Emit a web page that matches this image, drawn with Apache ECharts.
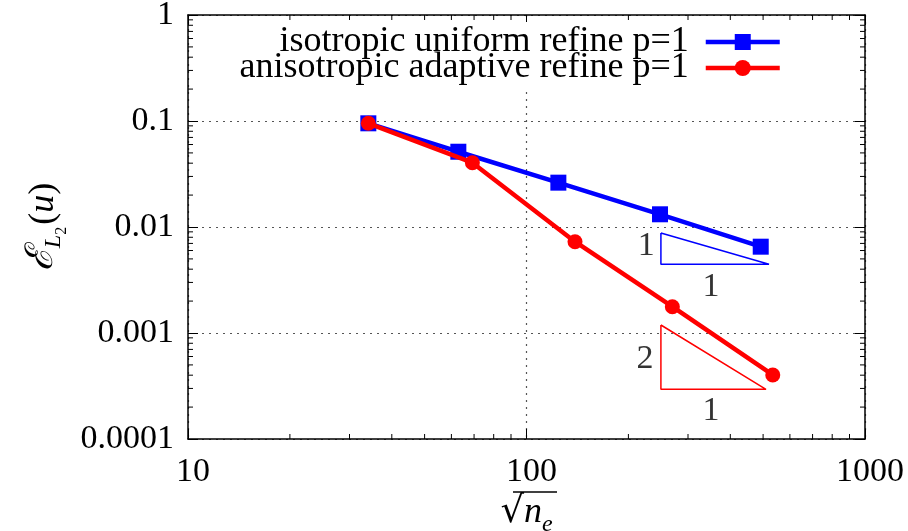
<!DOCTYPE html>
<html>
<head>
<meta charset="utf-8">
<script src="https://cdn.jsdelivr.net/npm/echarts@6/dist/echarts.min.js"></script>
<style>html,body{margin:0;padding:0;background:#fff;}#c{width:908px;height:531px;}</style>
</head>
<body>
<div id="c"></div>
<script>
// ---- data ----
const isoX = [34.1, 62.9, 124.2, 248, 492];
const isoY = [0.0951, 0.0513, 0.0262, 0.01318, 0.00652];
const anisoX = [34.1, 69.2, 139.1, 269.7, 534];
const anisoY = [0.0951, 0.0404, 0.00726, 0.00177, 0.000402];

// slope triangles (data coordinates)
const blueTriX = [249.5, 249.5, 520.5, 249.5];
const blueTriY = [0.00878, 0.00445, 0.00445, 0.00878];
const redTriX = [249.5, 249.5, 510, 249.5];
const redTriY = [0.00119, 0.000294, 0.000294, 0.00119];
const blueTriLabelX = [226, 351];
const blueTriLabelY = [0.0066, 0.0027];
const blueTriLabelText = ['1', '1'];
const redTriLabelX = [224, 351];
const redTriLabelY = [0.00057, 0.000184];
const redTriLabelText = ['2', '1'];

const xTickLabels = ['10', '100', '1000'];
const yTickLabels = ['0.0001', '0.001', '0.01', '0.1', '1'];
const xMinor = [20, 30, 40, 50, 60, 70, 80, 90, 200, 300, 400, 500, 600, 700, 800, 900];
const yMinor = [0.0002, 0.0003, 0.0004, 0.0005, 0.0006, 0.0007, 0.0008, 0.0009,
                0.002, 0.003, 0.004, 0.005, 0.006, 0.007, 0.008, 0.009,
                0.02, 0.03, 0.04, 0.05, 0.06, 0.07, 0.08, 0.09,
                0.2, 0.3, 0.4, 0.5, 0.6, 0.7, 0.8, 0.9];

const seriesNames = ['isotropic uniform refine p=1', 'anisotropic adaptive refine p=1'];

const FONT = "'Liberation Serif', 'DejaVu Serif', serif";
const zip = (a, b) => a.map((v, i) => [v, b[i]]);
const labelFor = (list, v) => {
  const s = String(Number(Number(v).toPrecision(6)));
  return list.includes(s) ? s : s;
};

const chart = echarts.init(document.getElementById('c'), null, {renderer: 'canvas'});

const axisLine = {show: true, onZero: false, lineStyle: {color: '#000', width: 1.5}};
const majorTick = {show: true, inside: true, length: 10, lineStyle: {color: '#000', width: 1}};
const gridLine = {show: true, lineStyle: {color: '#555', width: 1.2, type: [2, 5]}};

const option = {
  animation: false,
  backgroundColor: '#fff',
  textStyle: {fontFamily: FONT},
  grid: {left: 188, right: 43, top: 15, bottom: 92, containLabel: false, outerBoundsMode: 'none'},
  legend: {
    data: seriesNames,
    orient: 'vertical',
    align: 'right',
    right: 124,
    top: 22,
    padding: [2, 2, 2, 2],
    itemGap: -10,
    itemWidth: 74,
    itemHeight: 20,
    backgroundColor: '#fff',
    lineStyle: {width: 4.5},
    textStyle: {fontFamily: FONT, fontSize: 36, color: '#000', padding: [0, 12, 0, 0]}
  },
  xAxis: [{
    type: 'log', logBase: 10, min: 10, max: 1000, position: 'bottom',
    axisLine: axisLine, axisTick: majorTick,
    axisLabel: {fontFamily: FONT, fontSize: 34, color: '#000', margin: 16, padding: [0, 0, 0, 10],
      formatter: v => labelFor(xTickLabels, v)},
    splitLine: gridLine,
    name: '{r|√}{n|n}{e|e}',
    nameLocation: 'middle', nameGap: 42,
    nameTextStyle: {rich: {
      r: {fontFamily: 'DejaVu Serif', fontSize: 37, color: '#000', lineHeight: 40, verticalAlign: 'bottom'},
      n: {fontFamily: FONT, fontStyle: 'italic', fontSize: 36, color: '#000', lineHeight: 40, verticalAlign: 'bottom'},
      e: {fontFamily: FONT, fontStyle: 'italic', fontSize: 24, color: '#000', lineHeight: 40, verticalAlign: 'bottom', padding: [0, 0, -6, 0]}
    }}
  }, {
    type: 'log', logBase: 10, min: 10, max: 1000, position: 'top',
    axisLine: axisLine, axisTick: majorTick, axisLabel: {show: false}, splitLine: {show: false}
  }],
  yAxis: [{
    type: 'log', logBase: 10, min: 0.0001, max: 1, position: 'left',
    axisLine: axisLine, axisTick: majorTick,
    axisLabel: {fontFamily: FONT, fontSize: 34, color: '#000', margin: 14, formatter: v => labelFor(yTickLabels, v)},
    splitLine: gridLine,
    name: '{E|ℰ}{L|L}{two|2}{p|(}{u|u}{p|)}',
    nameLocation: 'middle', nameRotate: 90, nameGap: 126,
    nameTextStyle: {rich: {
      E: {fontFamily: "'DejaVu Serif', serif", fontStyle: 'italic', fontSize: 38, color: '#000', lineHeight: 44, verticalAlign: 'bottom'},
      L: {fontFamily: FONT, fontStyle: 'italic', fontSize: 24, color: '#000', lineHeight: 44, verticalAlign: 'bottom', padding: [0, 0, -4, 0]},
      two: {fontFamily: FONT, fontSize: 16, color: '#000', lineHeight: 44, verticalAlign: 'bottom', padding: [0, 2, -8, 0]},
      p: {fontFamily: FONT, fontSize: 36, color: '#000', lineHeight: 44, verticalAlign: 'bottom'},
      u: {fontFamily: FONT, fontStyle: 'italic', fontSize: 36, color: '#000', lineHeight: 44, verticalAlign: 'bottom'}
    }}
  }, {
    type: 'log', logBase: 10, min: 0.0001, max: 1, position: 'right',
    axisLine: axisLine, axisTick: majorTick, axisLabel: {show: false}, splitLine: {show: false}
  }],
  graphic: [{
    type: 'line', shape: {x1: 513, y1: 492, x2: 557, y2: 492}, style: {stroke: '#000', lineWidth: 1.4}, z: 100
  }],
  series: [
    {
      name: seriesNames[0], type: 'line', data: zip(isoX, isoY),
      symbol: 'rect', symbolSize: 16, color: '#0000ff',
      lineStyle: {width: 4.5, color: '#0000ff'}, itemStyle: {color: '#0000ff'}, z: 5
    },
    {
      name: seriesNames[1], type: 'line', data: zip(anisoX, anisoY),
      symbol: 'circle', symbolSize: 15, color: '#ff0000',
      lineStyle: {width: 4.5, color: '#ff0000'}, itemStyle: {color: '#ff0000'}, z: 6
    },
    {
      name: 'blueTri', type: 'line', data: zip(blueTriX, blueTriY), symbol: 'none', silent: true,
      lineStyle: {width: 1.5, color: '#0000ff'}, z: 4
    },
    {
      name: 'redTri', type: 'line', data: zip(redTriX, redTriY), symbol: 'none', silent: true,
      lineStyle: {width: 1.5, color: '#ff0000'}, z: 4
    },
    {
      name: 'triLabels', type: 'scatter', symbolSize: 0, silent: true,
      data: blueTriLabelX.map((x, i) => ({value: [x, blueTriLabelY[i]], name: blueTriLabelText[i]}))
        .concat(redTriLabelX.map((x, i) => ({value: [x, redTriLabelY[i]], name: redTriLabelText[i]}))),
      label: {show: true, position: 'inside', formatter: p => p.name, fontFamily: FONT, fontSize: 34, color: '#000'}
    },
    {
      name: 'xMinor', type: 'custom', silent: true, clip: false, z: 10,
      data: xMinor.map(v => [v, 1]),
      renderItem: (params, api) => {
        const p = api.coord([api.value(0), 1]);
        const cs = params.coordSys;
        const b = cs.y + cs.height;
        return {type: 'group', children: [
          {type: 'line', shape: {x1: p[0], y1: b, x2: p[0], y2: b - 5}, style: {stroke: '#000', lineWidth: 1}},
          {type: 'line', shape: {x1: p[0], y1: cs.y, x2: p[0], y2: cs.y + 5}, style: {stroke: '#000', lineWidth: 1}}
        ]};
      }
    },
    {
      name: 'yMinor', type: 'custom', silent: true, clip: false, z: 10,
      data: yMinor.map(v => [10, v]),
      renderItem: (params, api) => {
        const p = api.coord([10, api.value(1)]);
        const cs = params.coordSys;
        const r = cs.x + cs.width;
        return {type: 'group', children: [
          {type: 'line', shape: {x1: cs.x, y1: p[1], x2: cs.x + 5, y2: p[1]}, style: {stroke: '#000', lineWidth: 1}},
          {type: 'line', shape: {x1: r, y1: p[1], x2: r - 5, y2: p[1]}, style: {stroke: '#000', lineWidth: 1}}
        ]};
      }
    }
  ]
};
chart.setOption(option);
</script>
</body>
</html>
